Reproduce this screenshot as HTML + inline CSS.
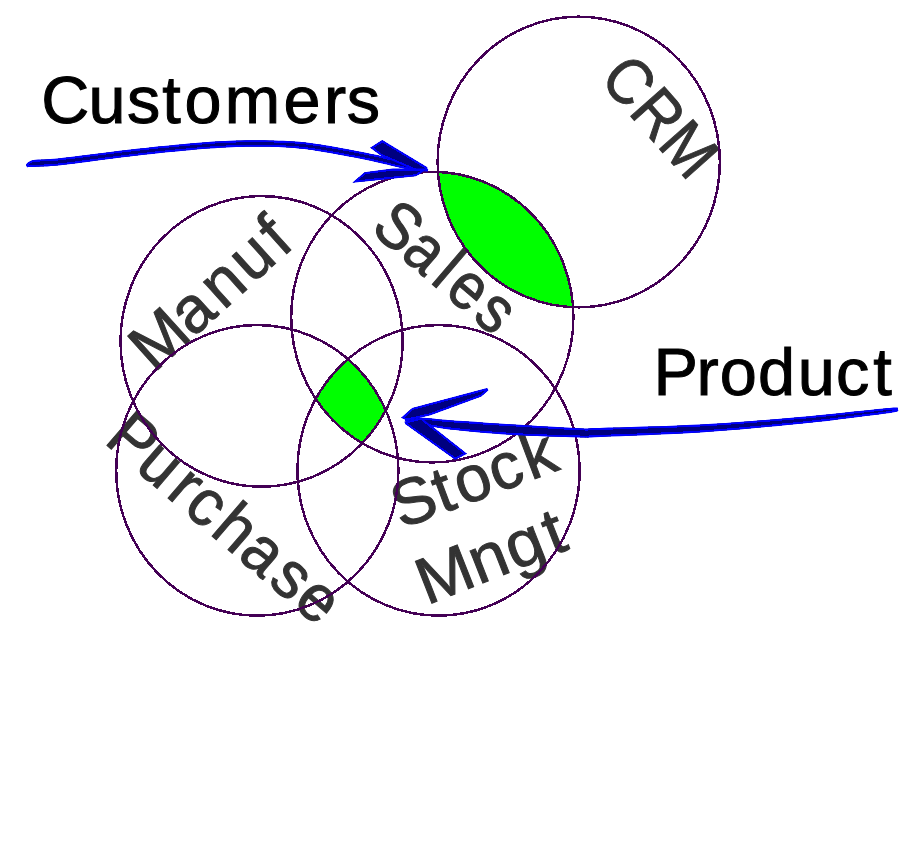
<!DOCTYPE html>
<html><head><meta charset="utf-8"><title>Venn</title>
<style>html,body{margin:0;padding:0;background:#fff;}svg{display:block;}</style></head>
<body><svg width="920" height="842" viewBox="0 0 920 842">
<rect width="920" height="842" fill="#ffffff"/>
<defs>
<clipPath id="a0"><path d="M27.0 167.3 L27.6 167.2 L28.3 167.1 L29.0 167.0 L29.6 167.0 L30.4 167.0 L31.4 167.0 L32.7 167.0 L34.4 166.9 L36.4 166.8 L38.6 166.7 L41.0 166.6 L43.9 166.5 L47.1 166.4 L50.9 166.1 L55.3 165.8 L60.4 165.3 L66.4 164.6 L73.3 163.7 L80.9 162.7 L88.9 161.7 L97.2 160.6 L105.3 159.5 L113.2 158.5 L120.4 157.6 L127.1 156.8 L133.6 156.0 L139.9 155.3 L146.0 154.6 L152.0 153.9 L158.1 153.2 L164.1 152.6 L170.3 152.0 L176.6 151.4 L183.0 150.8 L189.5 150.2 L195.9 149.6 L202.3 149.1 L208.5 148.6 L214.5 148.2 L220.2 147.8 L225.7 147.5 L231.0 147.2 L236.1 147.0 L241.0 146.9 L245.9 146.8 L250.6 146.7 L255.3 146.7 L260.0 146.7 L264.6 146.7 L269.3 146.8 L273.8 147.0 L278.3 147.1 L282.7 147.3 L286.9 147.6 L290.9 147.8 L294.8 148.1 L298.2 148.4 L301.3 148.7 L304.1 149.0 L306.8 149.3 L309.5 149.7 L312.4 150.1 L315.7 150.7 L319.5 151.3 L323.8 152.0 L328.7 152.8 L334.0 153.7 L339.4 154.7 L344.8 155.7 L350.1 156.7 L355.0 157.6 L359.4 158.4 L363.2 159.2 L366.6 159.9 L369.8 160.6 L372.7 161.3 L375.5 161.9 L378.3 162.6 L381.2 163.2 L384.2 163.9 L387.4 164.6 L390.6 165.4 L393.9 166.2 L397.1 167.0 L400.3 167.7 L403.4 168.4 L406.4 169.1 L409.3 169.6 L412.1 170.1 L414.8 170.4 L417.5 170.7 L420.1 170.9 L422.5 171.1 L424.6 171.2 L426.4 171.4 L427.8 171.5 L428.2 169.1 L426.9 168.7 L425.2 168.1 L423.3 167.4 L421.0 166.6 L418.6 165.8 L416.0 165.0 L413.4 164.2 L410.7 163.4 L408.0 162.6 L405.0 161.8 L402.0 161.0 L398.8 160.2 L395.5 159.4 L392.2 158.6 L389.0 157.8 L385.8 157.1 L382.8 156.4 L379.9 155.7 L377.1 155.1 L374.2 154.5 L371.2 153.9 L368.0 153.2 L364.5 152.5 L360.6 151.8 L356.3 150.9 L351.3 150.0 L346.1 149.0 L340.6 148.0 L335.2 147.0 L329.9 146.1 L324.9 145.3 L320.5 144.5 L316.7 144.0 L313.4 143.5 L310.4 143.0 L307.6 142.7 L304.8 142.3 L301.9 142.0 L298.8 141.8 L295.2 141.5 L291.3 141.3 L287.2 141.0 L283.0 140.8 L278.6 140.7 L274.0 140.5 L269.4 140.4 L264.7 140.3 L260.0 140.3 L255.3 140.3 L250.6 140.3 L245.8 140.3 L240.9 140.4 L235.9 140.5 L230.7 140.7 L225.4 140.9 L219.8 141.2 L214.0 141.6 L208.0 142.0 L201.7 142.5 L195.3 143.0 L188.9 143.6 L182.4 144.2 L176.0 144.8 L169.7 145.4 L163.5 146.0 L157.4 146.6 L151.3 147.3 L145.3 147.9 L139.1 148.6 L132.8 149.3 L126.3 150.0 L119.6 150.8 L112.3 151.7 L104.5 152.7 L96.3 153.7 L88.1 154.8 L80.0 155.8 L72.4 156.8 L65.5 157.6 L59.6 158.3 L54.7 158.8 L50.4 159.1 L46.8 159.3 L43.6 159.4 L40.8 159.5 L38.2 159.6 L35.9 159.8 L33.6 160.1 L31.5 160.6 L29.9 161.3 L28.6 162.0 L27.6 162.8 L26.9 163.5 L26.5 164.1 L26.3 164.6 L26.0 164.9 Z"/></clipPath><clipPath id="a1"><path d="M370.2 147.7 L382.2 140.1 L427.3 167.3 L427.0 171.0 L417.4 171.4 L381.5 156.0 Z"/></clipPath><clipPath id="a2"><path d="M352.3 182.8 L364.6 172.2 L393.0 168.6 L427.5 168.6 L419.4 174.3 L415.5 176.3 Z"/></clipPath><clipPath id="a3"><path d="M404.9 420.7 L406.0 420.9 L407.2 421.3 L408.7 421.6 L410.5 422.1 L412.4 422.5 L414.6 423.0 L417.0 423.5 L419.6 424.1 L422.3 424.6 L425.2 425.2 L428.2 425.9 L431.6 426.6 L435.3 427.3 L439.5 428.0 L444.2 428.7 L449.5 429.4 L455.6 430.1 L462.2 430.8 L469.5 431.5 L477.1 432.2 L485.1 433.0 L493.2 433.6 L501.5 434.2 L509.7 434.8 L518.3 435.3 L527.7 435.7 L537.5 436.1 L547.3 436.5 L556.8 436.8 L565.6 437.1 L573.4 437.3 L579.8 437.5 L584.2 437.6 L586.5 437.7 L587.7 437.7 L588.7 437.6 L589.3 437.5 L590.9 437.4 L594.2 437.2 L600.2 436.9 L608.8 436.6 L619.5 436.2 L631.8 435.7 L645.1 435.2 L659.1 434.6 L673.3 434.0 L687.2 433.3 L700.2 432.5 L713.0 431.6 L726.2 430.6 L739.6 429.5 L752.8 428.3 L765.7 427.1 L778.1 425.9 L789.7 424.8 L800.3 423.8 L809.9 422.8 L818.9 421.8 L827.1 420.9 L834.7 419.9 L841.8 419.0 L848.4 418.2 L854.6 417.4 L860.3 416.7 L865.7 416.0 L870.4 415.5 L874.7 414.9 L878.6 414.5 L882.0 414.0 L885.1 413.6 L887.8 413.2 L890.3 412.9 L892.4 412.5 L894.0 412.2 L895.3 412.0 L896.2 411.7 L896.9 411.5 L897.4 411.4 L897.8 411.2 L898.3 411.1 L897.7 407.5 L897.2 407.5 L896.8 407.5 L896.2 407.5 L895.6 407.5 L894.7 407.6 L893.4 407.6 L891.8 407.7 L889.7 407.9 L887.2 408.1 L884.4 408.4 L881.4 408.7 L877.9 409.1 L874.1 409.5 L869.8 409.9 L865.0 410.4 L859.7 410.9 L853.9 411.5 L847.7 412.2 L841.1 412.9 L834.0 413.7 L826.4 414.5 L818.2 415.3 L809.3 416.2 L799.7 417.0 L789.1 417.9 L777.5 418.9 L765.1 419.9 L752.2 420.9 L739.0 421.9 L725.7 422.9 L712.5 423.8 L699.8 424.5 L686.7 425.1 L672.9 425.7 L658.8 426.2 L644.9 426.6 L631.5 427.0 L619.2 427.4 L608.5 427.6 L599.8 427.9 L593.8 428.1 L590.2 428.3 L588.4 428.5 L587.6 428.6 L587.6 428.6 L586.8 428.6 L584.5 428.5 L580.2 428.3 L573.8 428.0 L566.0 427.6 L557.2 427.1 L547.7 426.5 L538.0 425.9 L528.2 425.3 L518.9 424.7 L510.3 424.2 L502.2 423.7 L494.0 423.2 L485.8 422.7 L477.9 422.1 L470.3 421.6 L463.1 421.1 L456.4 420.7 L450.5 420.2 L445.2 419.8 L440.6 419.4 L436.5 419.0 L432.8 418.6 L429.4 418.2 L426.3 417.9 L423.3 417.7 L420.4 417.5 L417.6 417.5 L415.1 417.5 L412.8 417.6 L410.8 417.7 L409.0 417.9 L407.5 418.1 L406.2 418.2 L405.1 418.3 Z"/></clipPath><clipPath id="a4"><path d="M401.1 417.8 L412.2 408.0 L487.2 388.1 L488.4 390.2 L481.3 396.5 L430.4 415.2 L407.0 420.5 Z"/></clipPath><clipPath id="a5"><path d="M404.3 421.7 L421.3 417.8 L467.0 453.7 L455.2 459.8 L405.6 424.3 Z"/></clipPath>
<clipPath id="c_crm"><ellipse cx="578.75" cy="162.0" rx="141.1" ry="145.3"/></clipPath>
<clipPath id="c_sales"><ellipse cx="432.3" cy="317.1" rx="141.1" ry="145.3"/></clipPath>
<clipPath id="c_manuf"><ellipse cx="261.6" cy="341.4" rx="141.1" ry="145.3"/></clipPath>
<clipPath id="c_purch"><ellipse cx="257.3" cy="470.35" rx="141.1" ry="145.3"/></clipPath>
<clipPath id="c_stock"><ellipse cx="438.55" cy="470.35" rx="141.1" ry="145.3"/></clipPath>
</defs>
<g clip-path="url(#c_sales)"><ellipse cx="578.75" cy="162.0" rx="141.1" ry="145.3" fill="#00ff00" shape-rendering="crispEdges"/></g>
<g clip-path="url(#c_sales)"><g clip-path="url(#c_purch)"><g clip-path="url(#c_stock)"><ellipse cx="261.6" cy="341.4" rx="141.1" ry="145.3" fill="#00ff00" shape-rendering="crispEdges"/></g></g></g>
<text transform="translate(43.82 123.37) rotate(0.00) scale(1.0065 1)" x="-2.60 44.39 82.61 117.64 139.73 179.87 238.23 278.45 301.09" y="0" font-family="Liberation Sans" font-size="66.12" fill="#000000" stroke="#000000" stroke-width="1.0">Customers</text>
<text transform="translate(655.95 394.75) rotate(0.00) scale(1.0098 1)" x="-2.42 40.04 63.08 101.16 140.51 178.25 215.21" y="0" font-family="Liberation Sans" font-size="66.03" fill="#000000" stroke="#000000" stroke-width="1.0">Product</text>
<text transform="translate(598.32 79.83) rotate(48.54) scale(0.9070 1)" x="-0.21 48.48 96.44" y="0" font-family="Liberation Sans" font-size="65.09" fill="#333333" stroke="#333333" stroke-width="1.0">CRM</text>
<text transform="translate(369.00 230.30) rotate(40.50) scale(0.9014 1)" x="0.28 44.01 88.07 107.94 149.19" y="0" font-family="Liberation Sans" font-size="65.72" fill="#333333" stroke="#333333" stroke-width="1.0">Sales</text>
<text transform="translate(154.21 373.13) rotate(-42.08) scale(0.9827 1)" x="-0.14 53.09 94.89 134.58 175.74" y="0" font-family="Liberation Sans" font-size="65.68" fill="#333333" stroke="#333333" stroke-width="1.0">Manuf</text>
<text transform="translate(103.81 442.79) rotate(40.72) scale(0.9562 1)" x="-1.26 41.25 83.94 107.56 144.91 182.91 224.37 259.07" y="0" font-family="Liberation Sans" font-size="65.76" fill="#333333" stroke="#333333" stroke-width="1.0">Purchase</text>
<text transform="translate(402.89 528.51) rotate(-20.56) scale(0.9895 1)" x="-1.68 42.42 64.72 101.90 138.21" y="0" font-family="Liberation Sans" font-size="65.19" fill="#333333" stroke="#333333" stroke-width="1.0">Stock</text>
<text transform="translate(427.95 604.75) rotate(-21.48) scale(1.0253 1)" x="-1.27 53.04 90.82 131.07" y="0" font-family="Liberation Sans" font-size="65.54" fill="#333333" stroke="#333333" stroke-width="1.0">Mngt</text>
<ellipse cx="578.75" cy="162.0" rx="141.1" ry="145.3" fill="none" stroke="#440055" stroke-width="2.5" shape-rendering="crispEdges"/>
<ellipse cx="432.3" cy="317.1" rx="141.1" ry="145.3" fill="none" stroke="#440055" stroke-width="2.5" shape-rendering="crispEdges"/>
<ellipse cx="261.6" cy="341.4" rx="141.1" ry="145.3" fill="none" stroke="#440055" stroke-width="2.5" shape-rendering="crispEdges"/>
<ellipse cx="257.3" cy="470.35" rx="141.1" ry="145.3" fill="none" stroke="#440055" stroke-width="2.5" shape-rendering="crispEdges"/>
<ellipse cx="438.55" cy="470.35" rx="141.1" ry="145.3" fill="none" stroke="#440055" stroke-width="2.5" shape-rendering="crispEdges"/>
<path d="M27.0 167.3 L27.6 167.2 L28.3 167.1 L29.0 167.0 L29.6 167.0 L30.4 167.0 L31.4 167.0 L32.7 167.0 L34.4 166.9 L36.4 166.8 L38.6 166.7 L41.0 166.6 L43.9 166.5 L47.1 166.4 L50.9 166.1 L55.3 165.8 L60.4 165.3 L66.4 164.6 L73.3 163.7 L80.9 162.7 L88.9 161.7 L97.2 160.6 L105.3 159.5 L113.2 158.5 L120.4 157.6 L127.1 156.8 L133.6 156.0 L139.9 155.3 L146.0 154.6 L152.0 153.9 L158.1 153.2 L164.1 152.6 L170.3 152.0 L176.6 151.4 L183.0 150.8 L189.5 150.2 L195.9 149.6 L202.3 149.1 L208.5 148.6 L214.5 148.2 L220.2 147.8 L225.7 147.5 L231.0 147.2 L236.1 147.0 L241.0 146.9 L245.9 146.8 L250.6 146.7 L255.3 146.7 L260.0 146.7 L264.6 146.7 L269.3 146.8 L273.8 147.0 L278.3 147.1 L282.7 147.3 L286.9 147.6 L290.9 147.8 L294.8 148.1 L298.2 148.4 L301.3 148.7 L304.1 149.0 L306.8 149.3 L309.5 149.7 L312.4 150.1 L315.7 150.7 L319.5 151.3 L323.8 152.0 L328.7 152.8 L334.0 153.7 L339.4 154.7 L344.8 155.7 L350.1 156.7 L355.0 157.6 L359.4 158.4 L363.2 159.2 L366.6 159.9 L369.8 160.6 L372.7 161.3 L375.5 161.9 L378.3 162.6 L381.2 163.2 L384.2 163.9 L387.4 164.6 L390.6 165.4 L393.9 166.2 L397.1 167.0 L400.3 167.7 L403.4 168.4 L406.4 169.1 L409.3 169.6 L412.1 170.1 L414.8 170.4 L417.5 170.7 L420.1 170.9 L422.5 171.1 L424.6 171.2 L426.4 171.4 L427.8 171.5 L428.2 169.1 L426.9 168.7 L425.2 168.1 L423.3 167.4 L421.0 166.6 L418.6 165.8 L416.0 165.0 L413.4 164.2 L410.7 163.4 L408.0 162.6 L405.0 161.8 L402.0 161.0 L398.8 160.2 L395.5 159.4 L392.2 158.6 L389.0 157.8 L385.8 157.1 L382.8 156.4 L379.9 155.7 L377.1 155.1 L374.2 154.5 L371.2 153.9 L368.0 153.2 L364.5 152.5 L360.6 151.8 L356.3 150.9 L351.3 150.0 L346.1 149.0 L340.6 148.0 L335.2 147.0 L329.9 146.1 L324.9 145.3 L320.5 144.5 L316.7 144.0 L313.4 143.5 L310.4 143.0 L307.6 142.7 L304.8 142.3 L301.9 142.0 L298.8 141.8 L295.2 141.5 L291.3 141.3 L287.2 141.0 L283.0 140.8 L278.6 140.7 L274.0 140.5 L269.4 140.4 L264.7 140.3 L260.0 140.3 L255.3 140.3 L250.6 140.3 L245.8 140.3 L240.9 140.4 L235.9 140.5 L230.7 140.7 L225.4 140.9 L219.8 141.2 L214.0 141.6 L208.0 142.0 L201.7 142.5 L195.3 143.0 L188.9 143.6 L182.4 144.2 L176.0 144.8 L169.7 145.4 L163.5 146.0 L157.4 146.6 L151.3 147.3 L145.3 147.9 L139.1 148.6 L132.8 149.3 L126.3 150.0 L119.6 150.8 L112.3 151.7 L104.5 152.7 L96.3 153.7 L88.1 154.8 L80.0 155.8 L72.4 156.8 L65.5 157.6 L59.6 158.3 L54.7 158.8 L50.4 159.1 L46.8 159.3 L43.6 159.4 L40.8 159.5 L38.2 159.6 L35.9 159.8 L33.6 160.1 L31.5 160.6 L29.9 161.3 L28.6 162.0 L27.6 162.8 L26.9 163.5 L26.5 164.1 L26.3 164.6 L26.0 164.9 Z" fill="#000080" stroke="#0000ff" stroke-width="4.0" stroke-linejoin="round" shape-rendering="crispEdges" clip-path="url(#a0)"/>
<path d="M370.2 147.7 L382.2 140.1 L427.3 167.3 L427.0 171.0 L417.4 171.4 L381.5 156.0 Z" fill="#000080" stroke="#0000ff" stroke-width="4.0" stroke-linejoin="round" shape-rendering="crispEdges" clip-path="url(#a1)"/>
<path d="M352.3 182.8 L364.6 172.2 L393.0 168.6 L427.5 168.6 L419.4 174.3 L415.5 176.3 Z" fill="#000080" stroke="#0000ff" stroke-width="4.0" stroke-linejoin="round" shape-rendering="crispEdges" clip-path="url(#a2)"/>
<path d="M404.9 420.7 L406.0 420.9 L407.2 421.3 L408.7 421.6 L410.5 422.1 L412.4 422.5 L414.6 423.0 L417.0 423.5 L419.6 424.1 L422.3 424.6 L425.2 425.2 L428.2 425.9 L431.6 426.6 L435.3 427.3 L439.5 428.0 L444.2 428.7 L449.5 429.4 L455.6 430.1 L462.2 430.8 L469.5 431.5 L477.1 432.2 L485.1 433.0 L493.2 433.6 L501.5 434.2 L509.7 434.8 L518.3 435.3 L527.7 435.7 L537.5 436.1 L547.3 436.5 L556.8 436.8 L565.6 437.1 L573.4 437.3 L579.8 437.5 L584.2 437.6 L586.5 437.7 L587.7 437.7 L588.7 437.6 L589.3 437.5 L590.9 437.4 L594.2 437.2 L600.2 436.9 L608.8 436.6 L619.5 436.2 L631.8 435.7 L645.1 435.2 L659.1 434.6 L673.3 434.0 L687.2 433.3 L700.2 432.5 L713.0 431.6 L726.2 430.6 L739.6 429.5 L752.8 428.3 L765.7 427.1 L778.1 425.9 L789.7 424.8 L800.3 423.8 L809.9 422.8 L818.9 421.8 L827.1 420.9 L834.7 419.9 L841.8 419.0 L848.4 418.2 L854.6 417.4 L860.3 416.7 L865.7 416.0 L870.4 415.5 L874.7 414.9 L878.6 414.5 L882.0 414.0 L885.1 413.6 L887.8 413.2 L890.3 412.9 L892.4 412.5 L894.0 412.2 L895.3 412.0 L896.2 411.7 L896.9 411.5 L897.4 411.4 L897.8 411.2 L898.3 411.1 L897.7 407.5 L897.2 407.5 L896.8 407.5 L896.2 407.5 L895.6 407.5 L894.7 407.6 L893.4 407.6 L891.8 407.7 L889.7 407.9 L887.2 408.1 L884.4 408.4 L881.4 408.7 L877.9 409.1 L874.1 409.5 L869.8 409.9 L865.0 410.4 L859.7 410.9 L853.9 411.5 L847.7 412.2 L841.1 412.9 L834.0 413.7 L826.4 414.5 L818.2 415.3 L809.3 416.2 L799.7 417.0 L789.1 417.9 L777.5 418.9 L765.1 419.9 L752.2 420.9 L739.0 421.9 L725.7 422.9 L712.5 423.8 L699.8 424.5 L686.7 425.1 L672.9 425.7 L658.8 426.2 L644.9 426.6 L631.5 427.0 L619.2 427.4 L608.5 427.6 L599.8 427.9 L593.8 428.1 L590.2 428.3 L588.4 428.5 L587.6 428.6 L587.6 428.6 L586.8 428.6 L584.5 428.5 L580.2 428.3 L573.8 428.0 L566.0 427.6 L557.2 427.1 L547.7 426.5 L538.0 425.9 L528.2 425.3 L518.9 424.7 L510.3 424.2 L502.2 423.7 L494.0 423.2 L485.8 422.7 L477.9 422.1 L470.3 421.6 L463.1 421.1 L456.4 420.7 L450.5 420.2 L445.2 419.8 L440.6 419.4 L436.5 419.0 L432.8 418.6 L429.4 418.2 L426.3 417.9 L423.3 417.7 L420.4 417.5 L417.6 417.5 L415.1 417.5 L412.8 417.6 L410.8 417.7 L409.0 417.9 L407.5 418.1 L406.2 418.2 L405.1 418.3 Z" fill="#000080" stroke="#0000ff" stroke-width="4.0" stroke-linejoin="round" shape-rendering="crispEdges" clip-path="url(#a3)"/>
<path d="M401.1 417.8 L412.2 408.0 L487.2 388.1 L488.4 390.2 L481.3 396.5 L430.4 415.2 L407.0 420.5 Z" fill="#000080" stroke="#0000ff" stroke-width="4.0" stroke-linejoin="round" shape-rendering="crispEdges" clip-path="url(#a4)"/>
<path d="M404.3 421.7 L421.3 417.8 L467.0 453.7 L455.2 459.8 L405.6 424.3 Z" fill="#000080" stroke="#0000ff" stroke-width="4.0" stroke-linejoin="round" shape-rendering="crispEdges" clip-path="url(#a5)"/>
</svg></body></html>
